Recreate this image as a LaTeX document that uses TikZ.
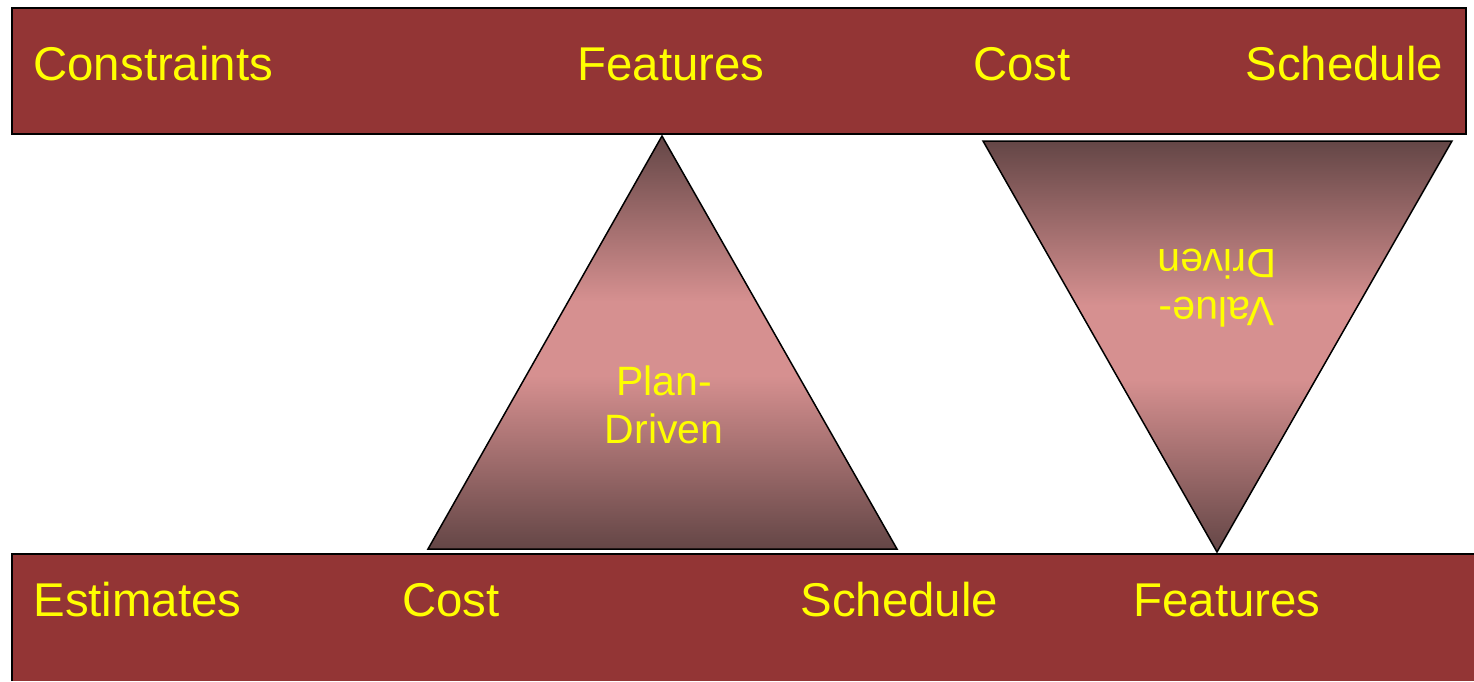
\documentclass[tikz,border=0pt]{standalone}
\usepackage{fontspec}
\setmainfont{Liberation Sans}
\usepackage{tikz}
\usetikzlibrary{calc}

\definecolor{barred}{RGB}{147,53,53}
\definecolor{tridark}{RGB}{100,70,70}
\definecolor{tripink}{RGB}{214,144,144}
\definecolor{labelyellow}{RGB}{255,255,0}
% dark at both ends, a broad pink band in the middle
\pgfdeclareverticalshading{triglow}{100bp}{color(0bp)=(tridark); color(25bp)=(tridark);
  color(46bp)=(tripink); color(55bp)=(tripink); color(75bp)=(tridark); color(100bp)=(tridark)}

\begin{document}
\begin{tikzpicture}[x=0.5pt,y=-0.5pt,
    bar/.style={fill=barred,draw=black,line width=1pt},
    tri/.style={shading=triglow,draw=black,line width=0.75pt},
    word/.style={text=labelyellow,font=\fontsize{23.7}{28}\selectfont,anchor=base west,inner sep=0pt},
    inner/.style={text=labelyellow,font=\fontsize{20.5}{24}\selectfont,align=center,inner sep=0pt}]
  \useasboundingbox (0,0) rectangle (1474,681);
  % constraint bar and estimate bar
  \draw[bar] (12,8) rectangle (1466,134);
  \fill[barred] (12,554) rectangle (1474,681);
  \draw[line width=1pt] (12,681) -- (12,554) -- (1474,554);
  \node[word] (con) at (33,80) {Constraints};
  \node[word] (topfeat) at (577,80) {Features};
  \node[word] (topcost) at (973,80) {Cost};
  \node[word] (topsched) at (1245,80) {Schedule};
  \node[word] (est) at (33,616) {Estimates};
  \node[word] (botcost) at (402,616) {Cost};
  \node[word] (botsched) at (800,616) {Schedule};
  \node[word] (botfeat) at (1133,616) {Features};
  % the two triangles
  \draw[tri] (662,136) -- (897,549) -- (428,549) -- cycle;
  \draw[tri] (983,141) -- (1452,141) -- (1217,552) -- cycle;
  \node[inner] (plan) at (664,405) {Plan-\\Driven};
  \node[inner,rotate=180] (value) at (1217,288) {Value-\\Driven};
\end{tikzpicture}
\end{document}
